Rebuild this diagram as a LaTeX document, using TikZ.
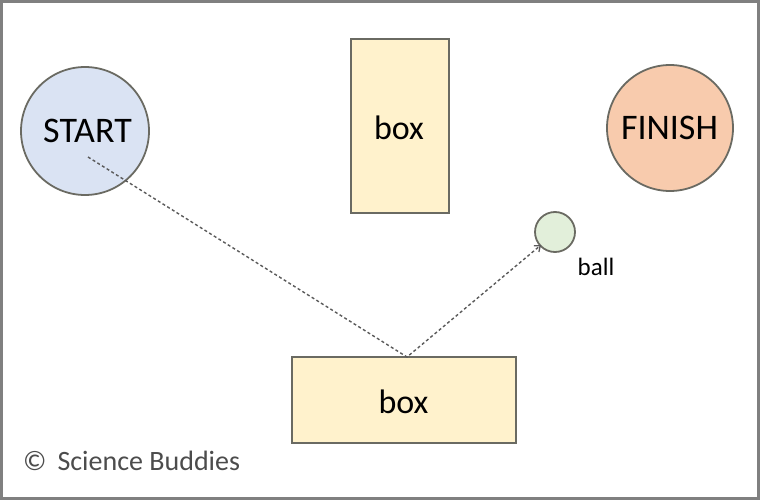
\documentclass[tikz,border=0pt]{standalone}
\usepackage{fontspec}
\setmainfont{Carlito}
\usetikzlibrary{arrows.meta}
\definecolor{startfill}{HTML}{DAE3F3}
\definecolor{finishfill}{HTML}{F8CBAD}
\definecolor{boxfill}{HTML}{FFF2CC}
\definecolor{ballfill}{HTML}{E2EFDA}
\definecolor{edge}{HTML}{6A6A62}
\definecolor{frame}{HTML}{808080}
\definecolor{pathgray}{HTML}{5A5A5A}
\tikzset{
  circ/.style={circle, draw=edge, line width=1.8pt, inner sep=0pt, minimum size=#1},
  boxnode/.style={rectangle, draw=edge, line width=1.8pt, fill=boxfill, inner sep=0pt},
  lbl/.style={text=black, inner sep=0pt},
  route/.style={draw=pathgray, line width=1.4pt, dash pattern=on 3pt off 2.5pt},
}
\begin{document}
\begin{tikzpicture}[x=1pt,y=-1pt]
\useasboundingbox (0,0) rectangle (760,500);
\draw[frame, line width=3pt] (1.5,1.5) rectangle (758.5,498.5);
\node[circ=128pt, fill=startfill] (start) at (85,131) {};
\node[lbl, font=\fontsize{36}{36}\selectfont] (starttxt) at (87.5,131) {START};
\node[circ=126pt, fill=finishfill] (finish) at (670,128) {};
\node[lbl, font=\fontsize{36}{36}\selectfont] (finishtxt) at (669.5,128) {FINISH};
\node[boxnode, minimum width=98pt, minimum height=174pt] (topbox) at (400,126) {};
\node[lbl, font=\fontsize{34}{34}\selectfont] (toptxt) at (399,128) {box};
\node[boxnode, minimum width=224pt, minimum height=86pt] (botbox) at (404,400) {};
\node[lbl, font=\fontsize{34}{34}\selectfont] (bottxt) at (403.5,402) {box};
\node[circ=40pt, fill=ballfill] (ball) at (555,232) {};
\node[lbl, font=\fontsize{25}{25}\selectfont] (balltxt) at (596,267) {ball};
\node[lbl, text=black!70, font=\fontsize{28}{28}\selectfont, anchor=west] (credit) at (23,461) {©\ \,Science Buddies};
\coordinate (p0) at (88,157);
\coordinate (bend) at (407,357);
\coordinate (p1) at (541,245);
\draw[route, -{Straight Barb[length=5pt,width=8pt,line width=1.3pt]}] (p0) -- (bend) -- (p1);
\end{tikzpicture}
\end{document}
